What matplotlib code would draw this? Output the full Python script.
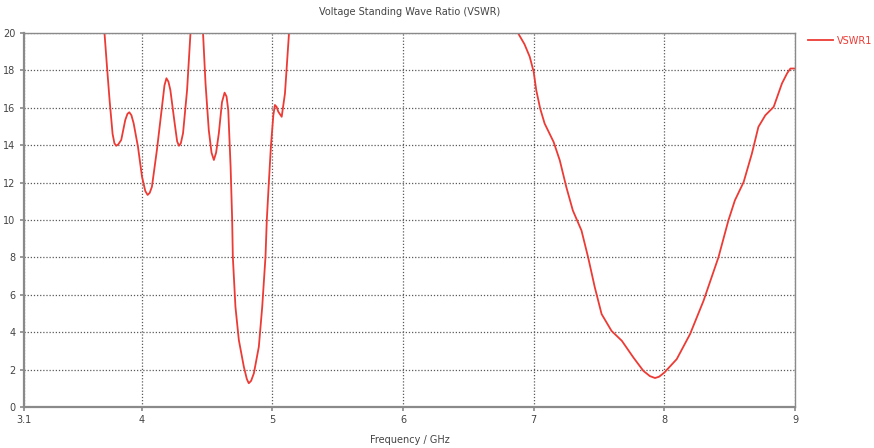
import matplotlib
matplotlib.use("Agg")
import matplotlib.pyplot as plt
from matplotlib.lines import Line2D

title = "Voltage Standing Wave Ratio (VSWR)"
xlabel = "Frequency / GHz"
series_name = "VSWR1"

freq_ghz = [3.10, 3.50, 3.68, 3.716, 3.735, 3.755, 3.778, 3.792, 3.806, 3.822, 3.844, 3.875,
            3.892, 3.906, 3.922, 3.939, 3.972, 4.003, 4.028, 4.046, 4.062, 4.079, 4.117,
            4.156, 4.175, 4.19, 4.205, 4.22, 4.253, 4.272, 4.286, 4.30, 4.317, 4.348,
            4.374, 4.39, 4.42, 4.455, 4.47, 4.489, 4.514, 4.535, 4.553, 4.57, 4.591,
            4.615, 4.635, 4.65, 4.663, 4.681, 4.693, 4.698, 4.718, 4.744, 4.782,
            4.805, 4.82, 4.838, 4.859, 4.897, 4.923, 4.948, 4.958, 4.974, 4.99, 5.008,
            5.02, 5.033, 5.046, 5.072, 5.097, 5.128, 5.2, 5.5, 6.0, 6.5, 6.8, 6.88,
            6.93, 6.97, 7.0, 7.02, 7.05, 7.084, 7.153, 7.2, 7.25, 7.30, 7.366, 7.417,
            7.468, 7.52, 7.596, 7.675, 7.764, 7.84, 7.89, 7.929, 7.96, 8.0, 8.095,
            8.197, 8.30, 8.414, 8.49, 8.54, 8.607, 8.67, 8.72, 8.773, 8.837,
            8.90, 8.94, 8.965, 9.0]
vswr = [40.0, 30.0, 22.0, 20.0, 18.2, 16.4, 14.6, 14.1, 13.97, 14.05, 14.28, 15.35,
        15.68, 15.76, 15.6, 15.17, 13.92, 12.32, 11.55, 11.34, 11.45, 11.78, 13.74,
        16.06, 17.2, 17.58, 17.4, 16.95, 15.17, 14.2, 13.97, 14.1, 14.64, 16.95,
        20.0, 23.0, 26.0, 23.0, 20.0, 17.31, 14.81, 13.6, 13.21, 13.6, 14.64,
        16.3, 16.81, 16.6, 15.88, 12.85, 10.0, 8.04, 5.36, 3.58, 2.16,
        1.5, 1.27, 1.4, 1.80, 3.22, 5.36, 8.04, 10.0, 12.05, 14.0, 15.6,
        16.15, 16.05, 15.79, 15.52, 16.77, 20.0, 26.0, 32.0, 35.0, 30.0, 22.0, 20.0,
        19.4, 18.73, 17.93, 16.94, 15.96, 15.16, 14.17, 13.19, 11.76, 10.51, 9.44, 8.0,
        6.40, 4.97, 4.07, 3.54, 2.64, 1.93, 1.65, 1.55, 1.62, 1.84, 2.56,
        3.90, 5.68, 8.0, 9.97, 11.05, 12.03, 13.55, 14.98, 15.6, 16.05,
        17.30, 17.85, 18.1, 18.1]

xticks = [3.1, 4, 5, 6, 7, 8, 9]
xtick_labels = ["3.1", "4", "5", "6", "7", "8", "9"]
yticks = [0, 2, 4, 6, 8, 10, 12, 14, 16, 18, 20]

red = "#ec3b35"
gray = "#8a8a8a"
txt = "#444444"

fig = plt.figure(figsize=(8.74, 4.48), dpi=100)
ax = fig.add_axes([24/874, 1-407/448, (795-24)/874, (407-33)/448])
ax.plot(freq_ghz, vswr, color=red, lw=1.3)
ax.set_xlim(3.1, 9)
ax.set_ylim(0, 20)
ax.set_xticks(xticks)
ax.set_xticklabels(xtick_labels)
ax.set_yticks(yticks)
ax.grid(True, which="major", linestyle=(0, (1, 1.5)), color="#5a5a5a", lw=0.9)
for s in ax.spines.values():
    s.set_color(gray)
    s.set_linewidth(1.0)
ax.spines["left"].set_linewidth(1.6)
ax.spines["bottom"].set_linewidth(1.6)
ax.tick_params(axis="both", labelsize=7, colors=txt, length=3, width=1.2, color=gray, pad=3)
ax.set_title(title, fontsize=7, color=txt, pad=13)
ax.set_xlabel(xlabel, fontsize=7, color=txt, labelpad=7)

fig.add_artist(Line2D([808/874, 833/874], [1-40.5/448, 1-40.5/448], color=red, lw=1.3))
fig.text(837/874, 1-40.5/448, series_name, color=red, fontsize=7, va="center", ha="left")

fig.savefig("out.png", dpi=100)
